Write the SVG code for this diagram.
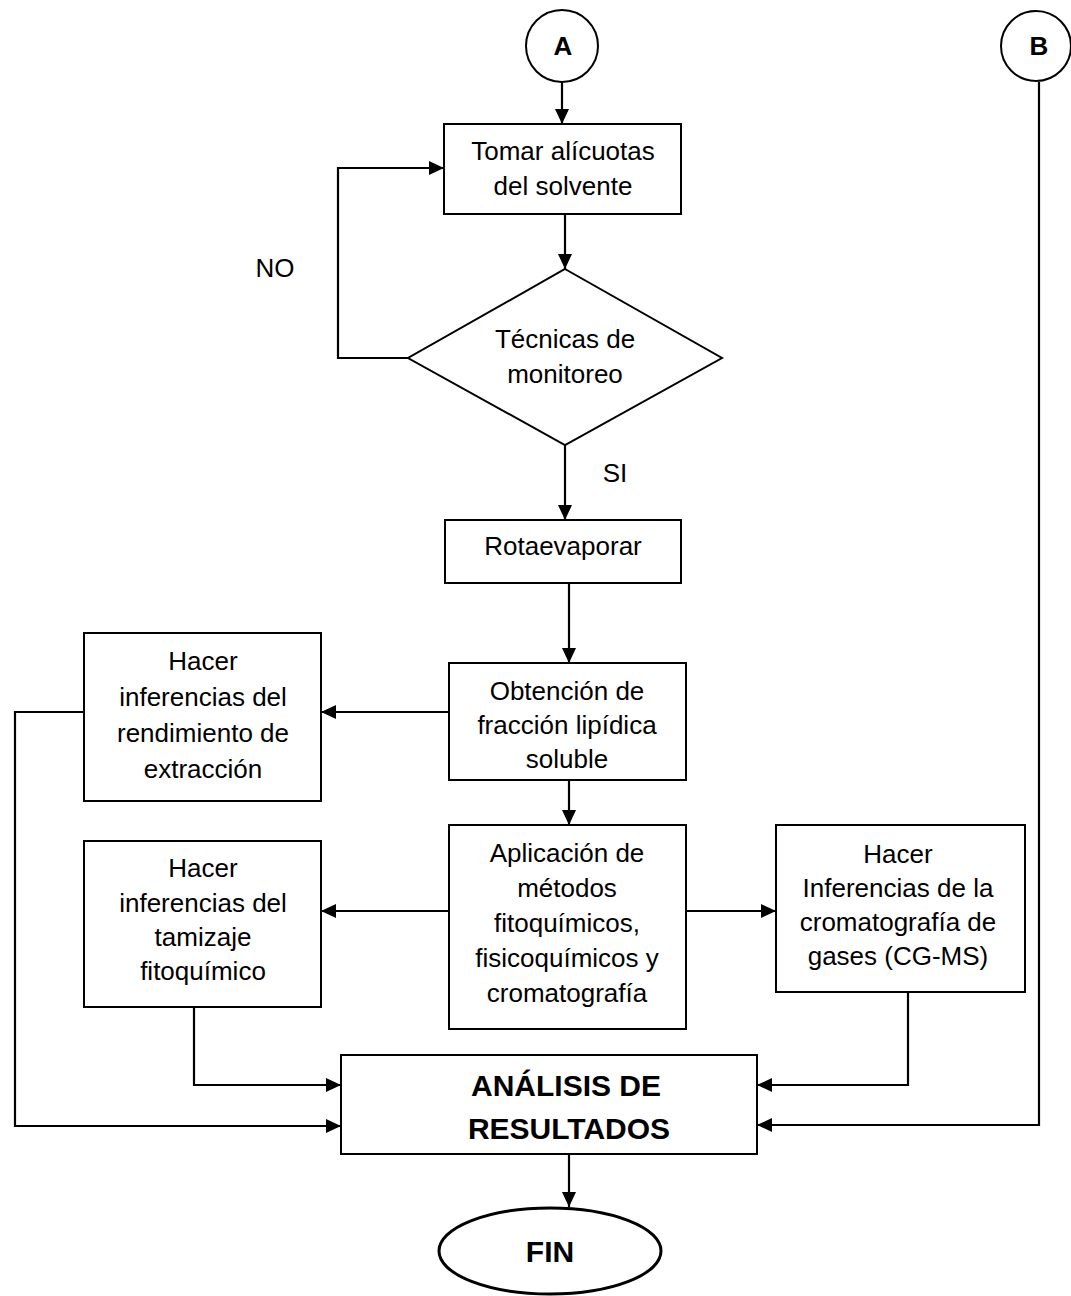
<svg xmlns="http://www.w3.org/2000/svg" width="1071" height="1296" viewBox="0 0 1071 1296">
  <style>
    .box { fill: #fff; stroke: #000; stroke-width: 2; }
    .conn { fill: none; stroke: #000; stroke-width: 2.2; }
    .arr { marker-end: url(#head); }
    text { font-family: "Liberation Sans", Arial, sans-serif; font-size: 26px; fill: #000; text-anchor: middle; }
    .bold { font-weight: bold; font-size: 30px; }
    .lbl { font-weight: bold; font-size: 26px; }
  </style>
  <defs>
    <marker id="head" markerUnits="userSpaceOnUse" markerWidth="16" markerHeight="14" refX="15" refY="7" orient="auto">
      <path d="M0,0 L15,7 L0,14 Z" fill="#000"/>
    </marker>
  </defs>
  <rect width="1071" height="1296" fill="#fff"/>

  <g id="connectors">
    <path class="conn arr" d="M562,82 V124"/>
    <path class="conn arr" d="M565,214 V269"/>
    <path class="conn arr" d="M408,358 H338 V168 H444"/>
    <path class="conn arr" d="M565,445 V520"/>
    <path class="conn arr" d="M569,583 V663"/>
    <path class="conn arr" d="M449,712 H321"/>
    <path class="conn arr" d="M569,780 V825"/>
    <path class="conn arr" d="M449,911 H321"/>
    <path class="conn arr" d="M686,911 H776"/>
    <path class="conn arr" d="M84,712 H15 V1126 H341"/>
    <path class="conn arr" d="M194,1007 V1085 H341"/>
    <path class="conn arr" d="M908,992 V1085 H757"/>
    <path class="conn arr" d="M1039,82 V1125 H757"/>
    <path class="conn arr" d="M569,1154 V1207"/>
  </g>

  <g id="connector-A">
    <circle cx="562" cy="46" r="36" fill="#fff" stroke="#000" stroke-width="2"/>
    <text class="lbl" x="563" y="55">A</text>
  </g>

  <g id="connector-B">
    <circle cx="1036" cy="46" r="35" fill="#fff" stroke="#000" stroke-width="2"/>
    <text class="lbl" x="1039" y="55">B</text>
  </g>

  <g id="tomar-alicuotas">
    <rect class="box" x="444" y="124" width="237" height="90"/>
    <text x="563" y="160">Tomar alícuotas</text>
    <text x="563" y="195">del solvente</text>
  </g>

  <g id="tecnicas-monitoreo">
    <polygon class="box" points="565,269 722,358 565,445 408,358"/>
    <text x="565" y="348">Técnicas de</text>
    <text x="565" y="383">monitoreo</text>
  </g>

  <g id="label-no">
    <text x="275" y="277">NO</text>
  </g>
  <g id="label-si">
    <text x="615" y="482">SI</text>
  </g>

  <g id="rotaevaporar">
    <rect class="box" x="445" y="520" width="236" height="63"/>
    <text x="563" y="555">Rotaevaporar</text>
  </g>

  <g id="obtencion-fraccion">
    <rect class="box" x="449" y="663" width="237" height="117"/>
    <text x="567" y="700">Obtención de</text>
    <text x="567" y="734">fracción lipídica</text>
    <text x="567" y="768">soluble</text>
  </g>

  <g id="inferencias-rendimiento">
    <rect class="box" x="84" y="633" width="237" height="168"/>
    <text x="203" y="670">Hacer</text>
    <text x="203" y="706">inferencias del</text>
    <text x="203" y="742">rendimiento de</text>
    <text x="203" y="778">extracción</text>
  </g>

  <g id="aplicacion-metodos">
    <rect class="box" x="449" y="825" width="237" height="204"/>
    <text x="567" y="862">Aplicación de</text>
    <text x="567" y="897">métodos</text>
    <text x="567" y="932">fitoquímicos,</text>
    <text x="567" y="967">fisicoquímicos y</text>
    <text x="567" y="1002">cromatografía</text>
  </g>

  <g id="inferencias-tamizaje">
    <rect class="box" x="84" y="841" width="237" height="166"/>
    <text x="203" y="877">Hacer</text>
    <text x="203" y="912">inferencias del</text>
    <text x="203" y="946">tamizaje</text>
    <text x="203" y="980">fitoquímico</text>
  </g>

  <g id="inferencias-cromatografia">
    <rect class="box" x="776" y="825" width="249" height="167"/>
    <text x="898" y="863">Hacer</text>
    <text x="898" y="897">Inferencias de la</text>
    <text x="898" y="931">cromatografía de</text>
    <text x="898" y="965">gases (CG-MS)</text>
  </g>

  <g id="analisis-resultados">
    <rect class="box" x="341" y="1055" width="416" height="99"/>
    <text class="bold" x="566" y="1096">ANÁLISIS DE</text>
    <text class="bold" x="569" y="1139">RESULTADOS</text>
  </g>

  <g id="fin">
    <ellipse cx="550" cy="1251" rx="111" ry="43" fill="#fff" stroke="#000" stroke-width="3"/>
    <text class="bold" x="550" y="1262">FIN</text>
  </g>
</svg>
